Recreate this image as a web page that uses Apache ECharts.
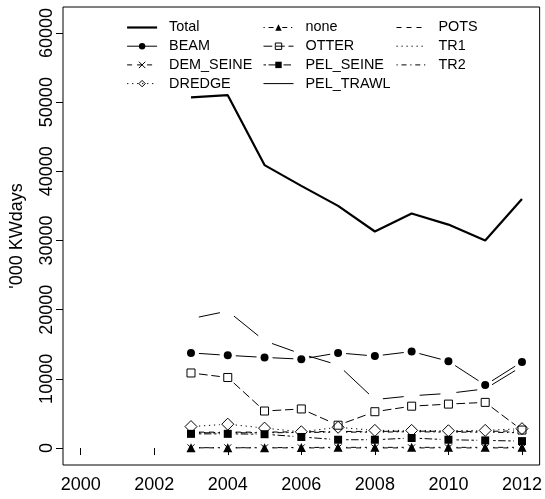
<!DOCTYPE html>
<html><head><meta charset="utf-8">
<script src="https://cdn.jsdelivr.net/npm/echarts@6/dist/echarts.min.js"></script>
<style>html,body{margin:0;padding:0;background:#fff}#c{width:545px;height:499px}</style>
</head><body><div id="c"></div>
<script>
// ---- data ----
const years = [2003, 2004, 2005, 2006, 2007, 2008, 2009, 2010, 2011, 2012];
const xTicks = [2000, 2002, 2004, 2006, 2008, 2010, 2012];
const yTicks = [0, 10000, 20000, 30000, 40000, 50000, 60000];
const Total     = [50700, 51000, 40900, 37900, 35000, 31300, 33900, 32300, 30000, 36000];
const BEAM      = [13750, 13400, 13100, 12850, 13750, 13300, 13950, 12550, 9100, 12450];
const DEM_SEINE = [30, 30, 30, 20, 20, 20, 20, 20, 20, 20];
const DREDGE    = [3100, 3450, 2880, 2350, 3000, 2550, 2550, 2500, 2550, 2800];
const NONE      = [50, 50, 50, 80, 100, 100, 100, 100, 100, 100];
const OTTER     = [10850, 10200, 5350, 5650, 3300, 5250, 6050, 6350, 6600, 2600];
const PEL_SEINE = [2050, 2050, 2000, 1600, 1200, 1200, 1450, 1200, 1100, 1000];
const PEL_TRAWL = [18700, 19800, 15500, 13600, 12000, 7000, 7550, 7900, 8550, 11800];
const POTS      = [2300, 2300, 2300, 2350, 2400, 2400, 2450, 2400, 2400, 2500];
const TR1       = [2250, 2250, 2250, 2300, 2350, 2350, 2400, 2350, 2350, 2300];
const TR2       = [2200, 2200, 2200, 2250, 2300, 2300, 2350, 2300, 2300, 2200];

// ---- styles ----
const FONT = 'Liberation Sans, Arial, sans-serif';
const GAP = 8;
const u = 1.25;
const DASHED = [4*u, 4*u], DOTTED = [1*u, 3*u], DOTDASH = [1*u, 3*u, 4*u, 3*u],
      LONGDASH = [7*u, 3*u], TWODASH = [2*u, 2*u, 6*u, 2*u];
const CROSS = 'path://M0,0L10,10M10,0L0,10';
const defs = [
  {name:'Total', data:Total, dash:'solid', width:2.2, symbol:'none', continuous:true},
  {name:'BEAM', data:BEAM, dash:'solid', symbol:'circle', size:8, fill:'#000', border:0},
  {name:'DEM_SEINE', data:DEM_SEINE, dash:DASHED, symbol:CROSS, size:7, fill:'rgba(0,0,0,0)', border:1},
  {name:'DREDGE', data:DREDGE, dash:DOTTED, symbol:'diamond', size:12, fill:'rgba(0,0,0,0)', border:1},
  {name:'none', data:NONE, dash:DOTDASH, symbol:'triangle', size:9, fill:'#000', border:0},
  {name:'OTTER', data:OTTER, dash:LONGDASH, symbol:'rect', size:8, fill:'rgba(0,0,0,0)', border:1},
  {name:'PEL_SEINE', data:PEL_SEINE, dash:TWODASH, symbol:'rect', size:8, fill:'#000', border:0},
  {name:'PEL_TRAWL', data:PEL_TRAWL, dash:'solid', symbol:'none'},
  {name:'POTS', data:POTS, dash:DASHED, symbol:'none'},
  {name:'TR1', data:TR1, dash:DOTTED, symbol:'none'},
  {name:'TR2', data:TR2, dash:DOTDASH, symbol:'none'}
];

const series = [];
defs.forEach(d => {
  const pts = years.map((y, i) => [y, d.data[i]]);
  series.push({
    name: d.name, type: 'line', data: pts,
    symbol: d.symbol, symbolSize: d.size || 0, showSymbol: d.symbol !== 'none', showAllSymbol: true,
    itemStyle: {color: d.fill || '#000', borderColor: '#000', borderWidth: d.border || 0},
    lineStyle: d.continuous ? {color:'#000', width:d.width, type:'solid'} : {color:'#000', width:0},
    z: 3, animation: false, silent: true
  });
  if (!d.continuous) {
    const segs = [];
    for (let i = 1; i < years.length; i++) segs.push([years[i-1], d.data[i-1], years[i], d.data[i]]);
    const dash = d.dash === 'solid' ? null : d.dash;
    series.push({
      name: d.name + '_seg', type: 'custom', data: segs, encode: {x:[0,2], y:[1,3]},
      silent: true, animation: false, z: 2,
      renderItem: (params, api) => {
        const p0 = api.coord([api.value(0), api.value(1)]);
        const p1 = api.coord([api.value(2), api.value(3)]);
        const dx = p1[0]-p0[0], dy = p1[1]-p0[1], L = Math.hypot(dx, dy);
        if (L <= 2*GAP) return {type:'group', children:[]};
        const ux = dx/L, uy = dy/L;
        return {type:'line', shape:{x1:p0[0]+ux*GAP, y1:p0[1]+uy*GAP, x2:p1[0]-ux*GAP, y2:p1[1]-uy*GAP},
                style:{stroke:'#000', lineWidth:1, lineDash:dash}};
      }
    });
  }
});

function legendItem(d) {
  return {
    name: d.name,
    lineStyle: {color:'#000', width: d.width || 1, type: d.dash, opacity: 1},
    itemStyle: d.symbol === 'none' ? {opacity: 0} :
      {color: d.fill, borderColor:'#000', borderWidth: d.border, opacity: 1}
  };
}
function mkLegend(left, names) {
  return {
    orient:'vertical', left:left, top:20.5, padding:0, itemGap:4.7,
    itemWidth:30, itemHeight:8, selectedMode:false,
    textStyle:{fontSize:14.4, fontFamily:FONT, color:'#000', lineHeight:14, padding:[0,0,0,7]},
    data: defs.filter(d => names.includes(d.name)).map(legendItem)
  };
}
const plain = v => String(v);

const chart = echarts.init(document.getElementById('c'), null, {renderer:'canvas'});
chart.setOption({
  backgroundColor:'#fff',
  animation:false,
  grid:{left:63, right:5, top:7, bottom:34, show:true, borderColor:'#000', borderWidth:1, backgroundColor:'transparent'},
  xAxis:{type:'value', min:1999.52, max:2012.48,
    axisLine:{show:false}, splitLine:{show:false},
    axisTick:{show:true, length:7, customValues:xTicks, lineStyle:{color:'#000'}},
    axisLabel:{customValues:xTicks, formatter:plain, fontSize:18, fontFamily:FONT, color:'#000', margin:11}},
  yAxis:{type:'value', min:-2452, max:63752,
    axisLine:{show:false}, splitLine:{show:false},
    axisTick:{show:true, length:7, customValues:yTicks, lineStyle:{color:'#000'}},
    axisLabel:{customValues:yTicks, formatter:plain, fontSize:18, fontFamily:FONT, color:'#000', margin:7, rotate:90},
    name:"'000 KWdays", nameLocation:'middle', nameGap:37,
    nameTextStyle:{fontSize:18, fontFamily:FONT, color:'#000'}},
  legend:[
    mkLegend(126, ['Total','BEAM','DEM_SEINE','DREDGE']),
    mkLegend(263, ['none','OTTER','PEL_SEINE','PEL_TRAWL']),
    mkLegend(396, ['POTS','TR1','TR2'])
  ],
  series: series
});
</script>
</body></html>
